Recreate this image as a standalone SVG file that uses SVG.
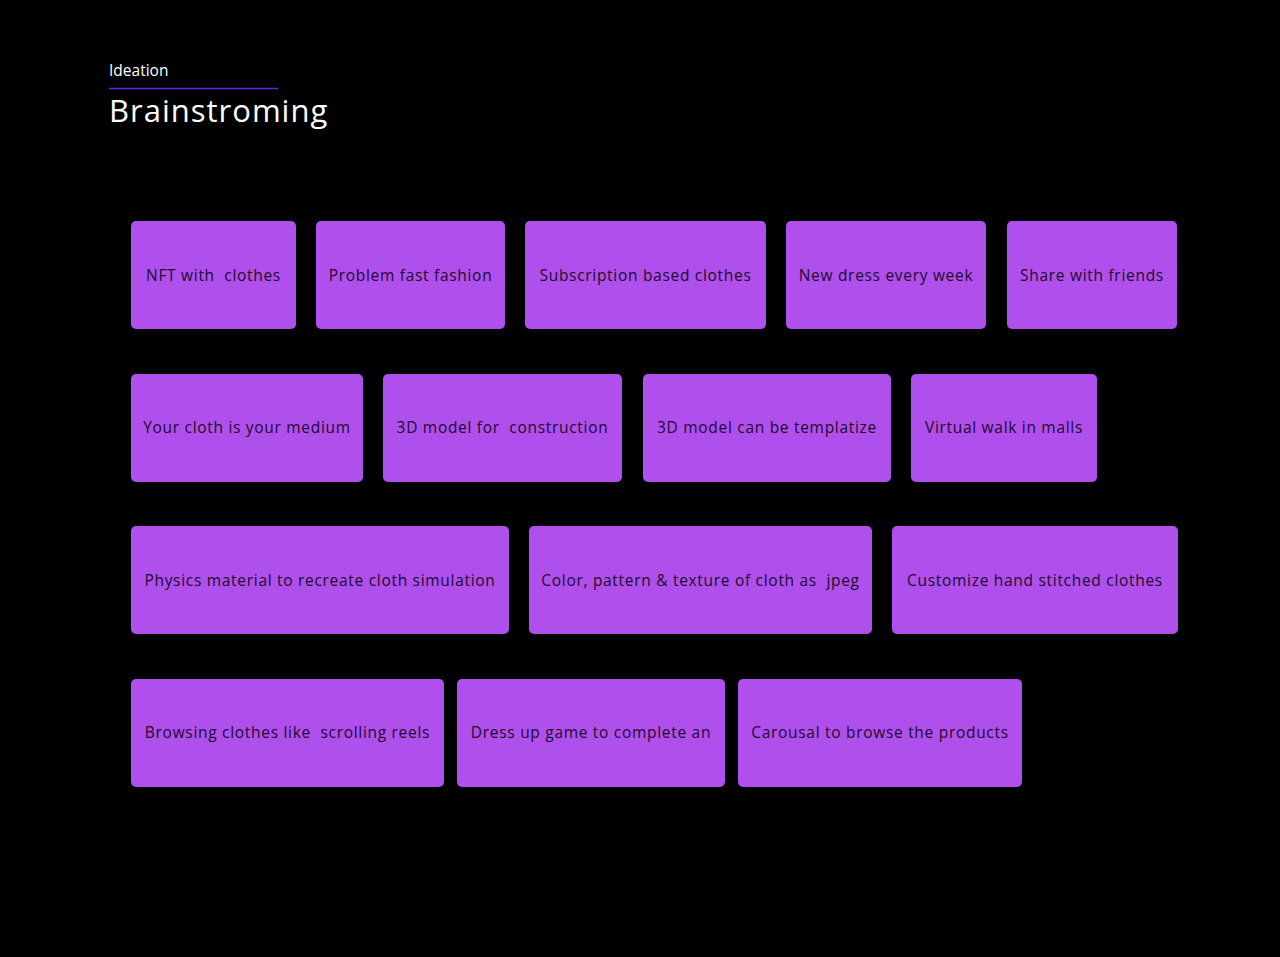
<svg xmlns="http://www.w3.org/2000/svg" width="1280" height="957" viewBox="0 0 1280 957">
<style>
.box{fill:#AF50ED;}
.t{font-family:"Open Sans","Liberation Sans",sans-serif;font-size:15.5px;letter-spacing:0.7px;fill:#1E0A2E;text-anchor:middle;white-space:pre;}
.h1{font-family:"Open Sans","Liberation Sans",sans-serif;fill:#fff;}
</style>
<rect width="1280" height="957" fill="#000"/>
<g id="header">
<text class="h1" x="109" y="76" font-size="15.5">Ideation</text>
<line x1="109" y1="88.5" x2="278" y2="88.5" stroke="#5B2BE0" stroke-width="1.5"/>
<text class="h1" x="109" y="122" font-size="31" letter-spacing="1">Brainstroming</text>
</g>
<g id="n1"><rect class="box" x="131" y="221" width="165" height="108" rx="5"/><text class="t" x="213.5" y="281" xml:space="preserve">NFT with  clothes</text></g>
<g id="n2"><rect class="box" x="316" y="221" width="189" height="108" rx="5"/><text class="t" x="410.5" y="281">Problem fast fashion</text></g>
<g id="n3"><rect class="box" x="525" y="221" width="241" height="108" rx="5"/><text class="t" x="645.5" y="281">Subscription based clothes</text></g>
<g id="n4"><rect class="box" x="786" y="221" width="200" height="108" rx="5"/><text class="t" x="886" y="281">New dress every week</text></g>
<g id="n5"><rect class="box" x="1007" y="221" width="170" height="108" rx="5"/><text class="t" x="1092" y="281">Share with friends</text></g>
<g id="n6"><rect class="box" x="131" y="374" width="232" height="108" rx="5"/><text class="t" x="247" y="433">Your cloth is your medium</text></g>
<g id="n7"><rect class="box" x="383" y="374" width="239" height="108" rx="5"/><text class="t" x="502.5" y="433" xml:space="preserve">3D model for  construction</text></g>
<g id="n8"><rect class="box" x="643" y="374" width="248" height="108" rx="5"/><text class="t" x="767" y="433">3D model can be templatize</text></g>
<g id="n9"><rect class="box" x="911" y="374" width="186" height="108" rx="5"/><text class="t" x="1004" y="433">Virtual walk in malls</text></g>
<g id="n10"><rect class="box" x="131" y="526" width="378" height="108" rx="5"/><text class="t" x="320" y="586">Physics material to recreate cloth simulation</text></g>
<g id="n11"><rect class="box" x="529" y="526" width="343" height="108" rx="5"/><text class="t" x="700.5" y="586" xml:space="preserve">Color, pattern &amp; texture of cloth as  jpeg</text></g>
<g id="n12"><rect class="box" x="892" y="526" width="286" height="108" rx="5"/><text class="t" x="1035" y="586">Customize hand stitched clothes</text></g>
<g id="n13"><rect class="box" x="131" y="679" width="313" height="108" rx="5"/><text class="t" x="287.5" y="738" xml:space="preserve">Browsing clothes like  scrolling reels</text></g>
<g id="n14"><rect class="box" x="457" y="679" width="268" height="108" rx="5"/><text class="t" x="591" y="738">Dress up game to complete an</text></g>
<g id="n15"><rect class="box" x="738" y="679" width="284" height="108" rx="5"/><text class="t" x="880" y="738">Carousal to browse the products</text></g>
<g id="connectors"/>
</svg>
